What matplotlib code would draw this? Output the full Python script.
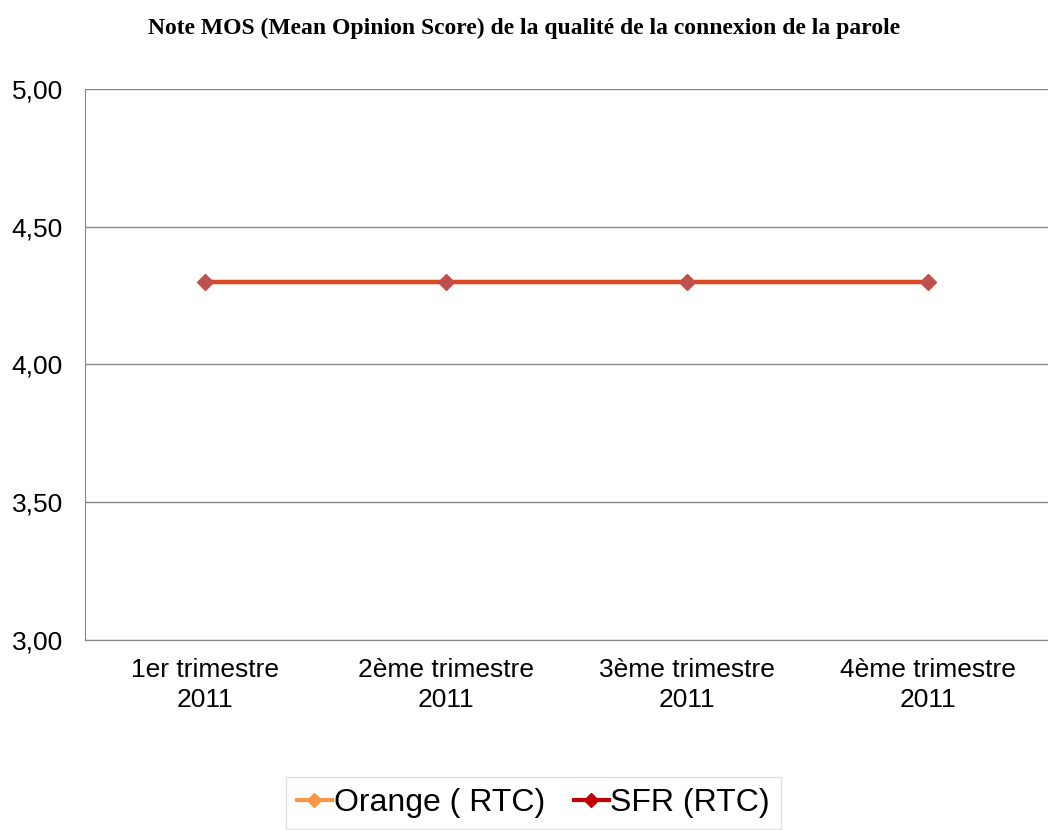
import matplotlib
matplotlib.use("Agg")
from matplotlib import pyplot as plt
from matplotlib.lines import Line2D

categories = ['1er trimestre\n2011', '2ème trimestre\n2011', '3ème trimestre\n2011', '4ème trimestre\n2011']
orange_rtc = [4.30, 4.30, 4.30, 4.30]
sfr_rtc = [4.30, 4.30, 4.30, 4.30]
y_ticks = [3.0, 3.5, 4.0, 4.5, 5.0]

plt.rcParams['font.family'] = ['Liberation Sans', 'DejaVu Sans']

fig = plt.figure(figsize=(10.48, 8.30), dpi=100)
ax = fig.add_axes([0.0811, 0.229, 0.9189, 0.6638])

x = range(len(categories))
# both series share the same values, so the lines overlap
ax.plot(x, orange_rtc, color='#F79646', linewidth=3.2, zorder=3)
ax.plot(x, sfr_rtc, color='#C00000', alpha=0.5, linewidth=3.2, zorder=4)
ax.plot(x, sfr_rtc, linestyle='none', marker='D', markersize=8,
        color='#C0504D', zorder=5)

ax.set_xlim(-0.5, len(categories) - 0.5)
ax.set_ylim(3.0, 5.0)
ax.set_yticks(y_ticks)
ax.set_yticklabels([f'{v:.2f}'.replace('.', ',') for v in y_ticks], fontsize=19)
ax.set_xticks(list(x))
ax.set_xticklabels(categories, fontsize=19)
for lbl in ax.get_xticklabels():
    lbl.set_linespacing(1.3)
ax.tick_params(axis='y', length=0, pad=16)
ax.tick_params(axis='x', length=0, pad=13)
ax.yaxis.grid(True, color='#868686', linewidth=1)
ax.set_axisbelow(True)
for side in ['top', 'right']:
    ax.spines[side].set_visible(False)
ax.spines['left'].set_color('#868686')
ax.spines['bottom'].set_color('#868686')

fig.text(0.5, 0.966, 'Note MOS (Mean Opinion Score) de la qualité de la connexion de la parole',
         ha='center', va='center', fontsize=17, fontweight='bold',
         family=['Liberation Serif', 'DejaVu Serif'])

handles = [
    Line2D([], [], color='#F79646', linewidth=3, marker='D', markersize=7),
    Line2D([], [], color='#C00000', linewidth=3, marker='D', markersize=7),
]
leg = fig.legend(handles, ['Orange ( RTC)', 'SFR (RTC)'], loc='upper center',
                 bbox_to_anchor=(0.509, 0.064), ncol=2, fontsize=23,
                 frameon=True, fancybox=False, handlelength=1.1,
                 handletextpad=0.05, columnspacing=0.9, borderpad=0.35,
                 borderaxespad=0)
leg.get_frame().set_edgecolor('#D9D9D9')
leg.get_frame().set_linewidth(1)

fig.savefig('out.png', dpi=100)
